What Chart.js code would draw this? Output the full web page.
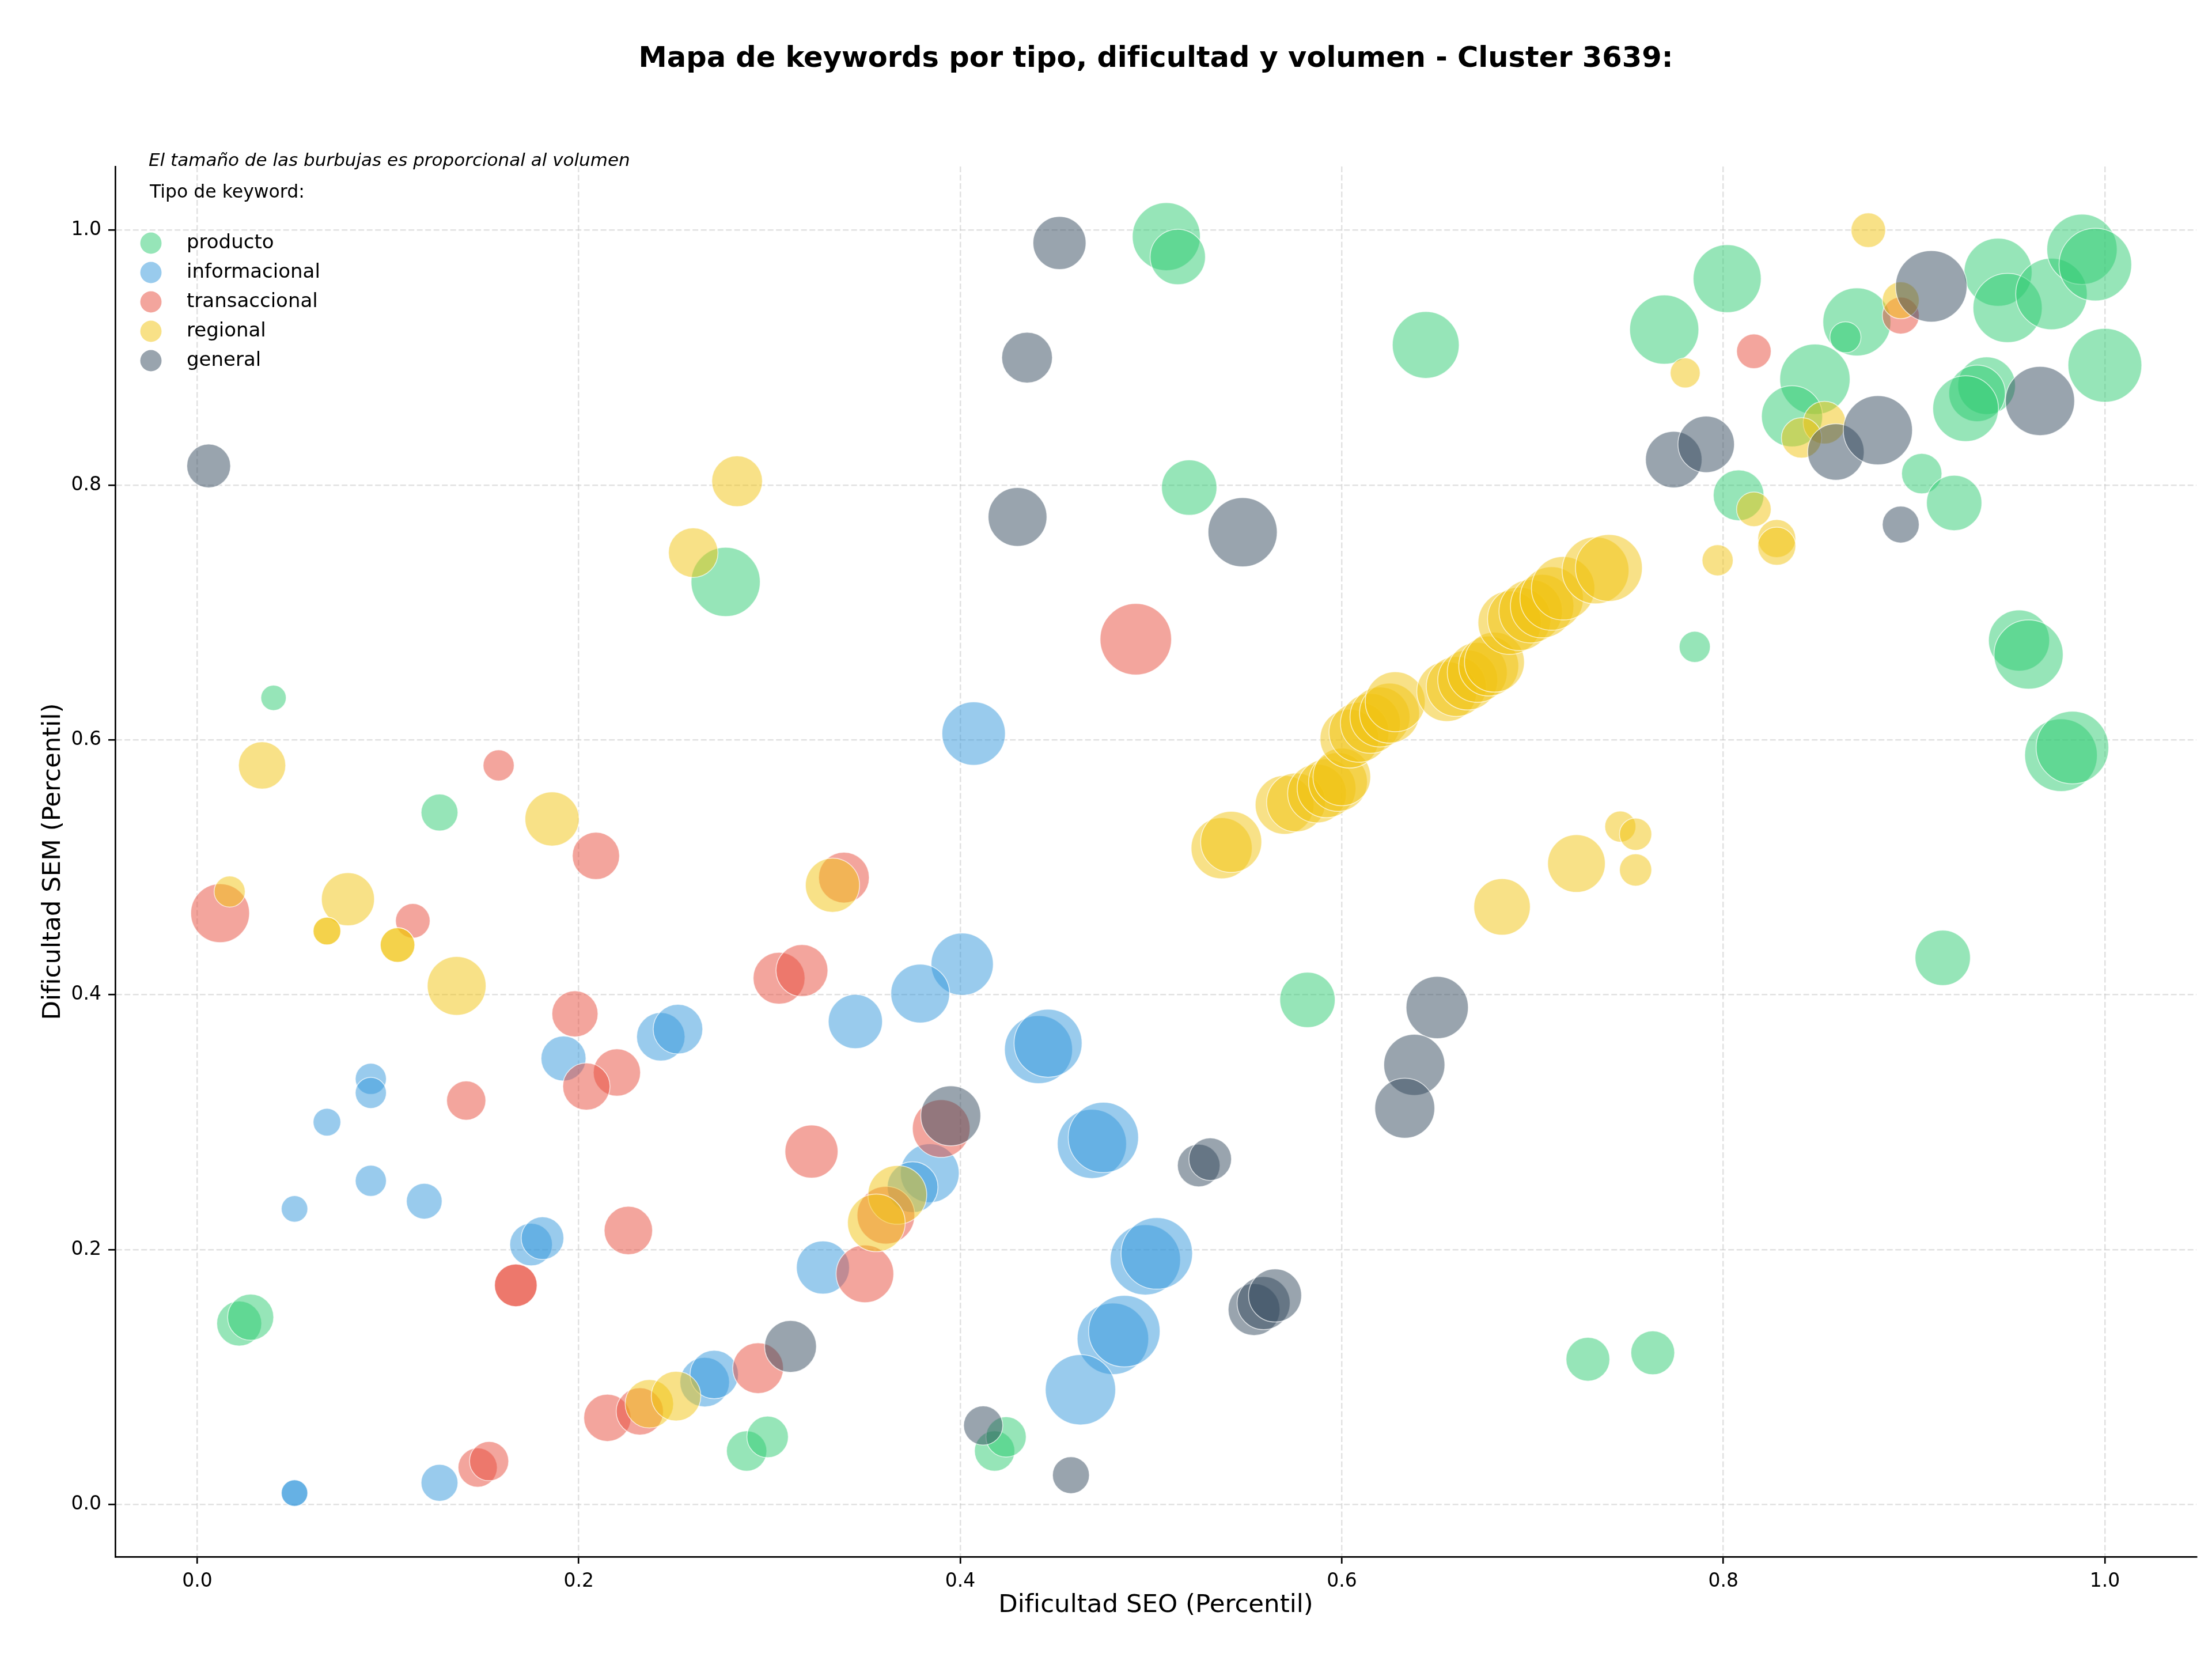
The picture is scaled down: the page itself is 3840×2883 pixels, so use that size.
<!doctype html>
<html lang="es">
<head>
<meta charset="utf-8">
<title>Mapa de keywords - Cluster 3639</title>
<script src="https://cdn.jsdelivr.net/npm/chart.js"></script>
<style>
  html, body { margin: 0; padding: 0; background: #fff; }
  #wrap { width: 3840px; height: 2883px; }
</style>
</head>
<body>
<div id="wrap"><canvas id="mapa" width="3840" height="2883"></canvas></div>
<script>
const titulo = 'Mapa de keywords por tipo, dificultad y volumen - Cluster 3639:';
const nota = 'El tamaño de las burbujas es proporcional al volumen';
const tituloLeyenda = 'Tipo de keyword:';
const tipos = ['producto', 'informacional', 'transaccional', 'regional', 'general'];
const colores = ['#2ecc71', '#3498db', '#e74c3c', '#f1c40f', '#34495e'];
const ticksSEO = [0, 0.2, 0.4, 0.6, 0.8, 1.0];
const ticksSEM = [0, 0.2, 0.4, 0.6, 0.8, 1.0];

// [dificultad SEO, dificultad SEM, volumen]
const producto = [
  [0.508, 0.995, 870], [0.514, 0.979, 576], [0.644, 0.910, 841], [0.520, 0.798, 576],
  [0.277, 0.724, 900], [0.040, 0.633, 121], [0.127, 0.543, 256], [0.582, 0.396, 576],
  [0.022, 0.142, 380], [0.028, 0.147, 400], [0.288, 0.042, 306], [0.299, 0.053, 324],
  [0.418, 0.042, 306], [0.424, 0.053, 306], [0.729, 0.114, 361], [0.763, 0.119, 361],
  [0.802, 0.962, 870], [0.769, 0.922, 900], [0.870, 0.928, 870], [0.864, 0.916, 182],
  [0.944, 0.967, 870], [0.949, 0.939, 900], [0.972, 0.950, 961], [0.988, 0.985, 930],
  [0.995, 0.973, 992], [1.000, 0.894, 1024], [0.848, 0.883, 930], [0.836, 0.854, 702],
  [0.808, 0.792, 484], [0.904, 0.809, 306], [0.921, 0.786, 576], [0.938, 0.878, 625],
  [0.933, 0.872, 600], [0.927, 0.860, 812], [0.955, 0.678, 702], [0.960, 0.667, 900],
  [0.977, 0.588, 992], [0.983, 0.594, 992], [0.915, 0.429, 576], [0.785, 0.673, 182]
];
const informacional = [
  [0.407, 0.605, 756], [0.401, 0.424, 729], [0.379, 0.401, 650], [0.345, 0.379, 552],
  [0.441, 0.357, 870], [0.446, 0.362, 870], [0.243, 0.367, 441], [0.252, 0.373, 462],
  [0.192, 0.350, 380], [0.091, 0.334, 182], [0.091, 0.323, 182], [0.068, 0.300, 144],
  [0.091, 0.254, 182], [0.051, 0.232, 132], [0.119, 0.238, 240], [0.175, 0.204, 342],
  [0.181, 0.209, 342], [0.051, 0.009, 132], [0.051, 0.009, 132], [0.127, 0.017, 256],
  [0.266, 0.096, 462], [0.271, 0.102, 441], [0.328, 0.186, 529], [0.384, 0.260, 650],
  [0.375, 0.249, 484], [0.469, 0.283, 900], [0.475, 0.288, 930], [0.497, 0.192, 930],
  [0.503, 0.197, 961], [0.480, 0.130, 961], [0.486, 0.136, 961], [0.463, 0.090, 930]
];
const transaccional = [
  [0.492, 0.679, 961], [0.158, 0.580, 182], [0.209, 0.509, 420], [0.012, 0.464, 650],
  [0.113, 0.458, 225], [0.305, 0.413, 506], [0.317, 0.419, 506], [0.339, 0.492, 484],
  [0.198, 0.385, 400], [0.220, 0.339, 420], [0.204, 0.328, 420], [0.141, 0.317, 289],
  [0.322, 0.277, 529], [0.226, 0.215, 441], [0.167, 0.172, 342], [0.167, 0.172, 342],
  [0.147, 0.029, 289], [0.153, 0.034, 289], [0.215, 0.068, 420], [0.232, 0.073, 420],
  [0.294, 0.107, 484], [0.350, 0.181, 625], [0.390, 0.295, 625], [0.361, 0.227, 625],
  [0.816, 0.905, 225], [0.893, 0.933, 256]
];
const regional = [
  [0.283, 0.803, 484], [0.260, 0.747, 462], [0.034, 0.580, 420], [0.186, 0.538, 552],
  [0.017, 0.481, 182], [0.079, 0.475, 529], [0.068, 0.450, 144], [0.068, 0.450, 144],
  [0.105, 0.439, 225], [0.105, 0.439, 225], [0.136, 0.407, 650], [0.333, 0.486, 552],
  [0.237, 0.079, 441], [0.251, 0.085, 462], [0.367, 0.243, 650], [0.356, 0.221, 625],
  [0.684, 0.469, 600], [0.723, 0.503, 625], [0.746, 0.532, 182], [0.754, 0.526, 196],
  [0.754, 0.498, 196], [0.876, 1.000, 225], [0.780, 0.888, 169], [0.893, 0.945, 256],
  [0.853, 0.849, 342], [0.841, 0.837, 306], [0.816, 0.781, 225], [0.828, 0.758, 272],
  [0.828, 0.752, 272], [0.797, 0.741, 182],
  [0.537, 0.515, 702], [0.542, 0.520, 702], [0.570, 0.549, 650], [0.576, 0.551, 650],
  [0.587, 0.558, 650], [0.592, 0.562, 650], [0.598, 0.567, 650], [0.600, 0.571, 625],
  [0.604, 0.601, 650], [0.609, 0.606, 676], [0.615, 0.613, 676], [0.620, 0.618, 676],
  [0.625, 0.621, 676], [0.628, 0.630, 676], [0.655, 0.638, 676], [0.660, 0.642, 676],
  [0.666, 0.647, 676], [0.671, 0.653, 676], [0.677, 0.658, 676], [0.680, 0.661, 676],
  [0.688, 0.692, 756], [0.693, 0.695, 756], [0.699, 0.701, 756], [0.705, 0.705, 756],
  [0.710, 0.711, 756], [0.716, 0.719, 756], [0.733, 0.733, 841], [0.740, 0.735, 841]
];
const general = [
  [0.006, 0.815, 361], [0.452, 0.990, 529], [0.435, 0.900, 484], [0.430, 0.775, 650],
  [0.548, 0.763, 900], [0.395, 0.305, 676], [0.311, 0.124, 506], [0.412, 0.062, 289],
  [0.458, 0.023, 256], [0.525, 0.266, 342], [0.531, 0.271, 342], [0.554, 0.153, 506],
  [0.559, 0.158, 529], [0.565, 0.164, 529], [0.650, 0.390, 729], [0.638, 0.345, 702],
  [0.633, 0.311, 676], [0.909, 0.956, 961], [0.859, 0.826, 600], [0.881, 0.843, 900],
  [0.774, 0.820, 600], [0.791, 0.832, 600], [0.893, 0.769, 256], [0.966, 0.866, 900]
];

const series = [producto, informacional, transaccional, regional, general];

function rgba(hex, a) {
  const n = parseInt(hex.slice(1), 16);
  return `rgba(${n >> 16}, ${(n >> 8) & 255}, ${n & 255}, ${a})`;
}
const radio = v => 2 * Math.sqrt(v);

const datasets = series.map((puntos, i) => ({
  label: tipos[i],
  data: puntos.map(p => ({ x: p[0], y: p[1], r: radio(p[2]) })),
  backgroundColor: rgba(colores[i], 0.5),
  borderColor: 'rgba(255, 255, 255, 0.7)',
  borderWidth: 1.5,
  order: tipos.length - i
}));

// title, note and legend drawn on top, like the matplotlib figure
const rotulos = {
  id: 'rotulos',
  afterDraw(chart) {
    const { ctx, chartArea } = chart;
    ctx.save();
    ctx.fillStyle = '#000';
    ctx.textBaseline = 'middle';
    ctx.textAlign = 'center';
    ctx.font = 'bold 49.5px "DejaVu Sans"';
    ctx.fillText(titulo, (chartArea.left + chartArea.right) / 2, 103);

    ctx.textAlign = 'left';
    ctx.font = 'italic 31px "DejaVu Sans"';
    ctx.fillText(nota, 258, 280);
    ctx.font = '31.5px "DejaVu Sans"';
    ctx.fillText(tituloLeyenda, 260, 335);

    ctx.font = '34px "DejaVu Sans"';
    tipos.forEach((t, i) => {
      const y = 422 + i * 51;
      ctx.beginPath();
      ctx.arc(262, y, 18.5, 0, 2 * Math.PI);
      ctx.fillStyle = rgba(colores[i], 0.5);
      ctx.fill();
      ctx.fillStyle = '#000';
      ctx.fillText(t, 324, y);
    });
    ctx.restore();
  }
};

const ejeComun = {
  grid: {
    color: 'rgba(200, 200, 200, 0.55)',
    lineWidth: 2.5,
    tickColor: '#000',
    tickLength: 12,
    tickWidth: 2.7,
    tickBorderDash: []
  },
  border: { display: true, color: '#000', width: 2.7, dash: [10, 4.5] },
  ticks: {
    color: '#000',
    padding: 12,
    font: { family: '"DejaVu Sans"', size: 33 },
    callback: v => Number(v).toFixed(1)
  }
};

new Chart(document.getElementById('mapa'), {
  type: 'bubble',
  data: { datasets: datasets },
  plugins: [rotulos],
  options: {
    responsive: false,
    devicePixelRatio: 1,
    animation: false,
    layout: { autoPadding: false, padding: { top: 289, right: 27, left: 0, bottom: 0 } },
    plugins: {
      legend: { display: false },
      title: { display: false },
      tooltip: { enabled: false }
    },
    scales: {
      x: {
        ...ejeComun,
        type: 'linear',
        position: 'bottom',
        min: -0.043,
        max: 1.048,
        afterBuildTicks: s => { s.ticks = ticksSEO.map(v => ({ value: v })); },
        afterFit: s => { s.height = 181; s.paddingLeft = 0; s.paddingRight = 0; },
        title: {
          display: true,
          text: 'Dificultad SEO (Percentil)',
          color: '#000',
          font: { family: '"DejaVu Sans"', size: 43.5 },
          padding: { top: 0, bottom: 70 }
        }
      },
      y: {
        ...ejeComun,
        type: 'linear',
        position: 'left',
        min: -0.041,
        max: 1.05,
        afterBuildTicks: s => { s.ticks = ticksSEM.map(v => ({ value: v })); },
        afterFit: s => { s.width = 200; s.paddingTop = 0; s.paddingBottom = 0; },
        title: {
          display: true,
          text: 'Dificultad SEM (Percentil)',
          color: '#000',
          font: { family: '"DejaVu Sans"', size: 43.5 },
          padding: { top: 67, bottom: 0 }
        }
      }
    }
  }
});
</script>
</body>
</html>
